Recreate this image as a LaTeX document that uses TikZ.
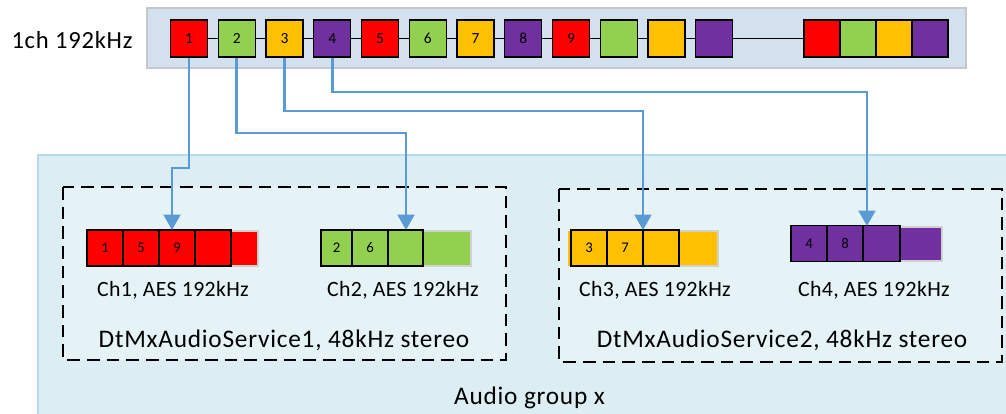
\documentclass[tikz,border=0pt]{standalone}
\usepackage{fontspec}
\setmainfont{Carlito}
\newfontfamily\widefont[LetterSpace=3]{Carlito}
\newfontfamily\labelfont[LetterSpace=1.5]{Carlito}
\usetikzlibrary{arrows.meta}
\definecolor{chred}{HTML}{FF0000}
\definecolor{chgreen}{HTML}{92D050}
\definecolor{chyellow}{HTML}{FFC000}
\definecolor{chpurple}{HTML}{7030A0}
\definecolor{barblue}{HTML}{D3E1EF}
\definecolor{barline}{HTML}{C4C8CC}
\definecolor{groupbg}{HTML}{DCEEF4}
\definecolor{groupline}{HTML}{B3DCE8}
\definecolor{svcbg}{HTML}{E5F3F7}
\definecolor{flowblue}{HTML}{5B9BD5}

\begin{document}
\begin{tikzpicture}[x=0.025cm, y=-0.025cm,
  slot/.style={draw=black, line width=1pt, minimum width=0.925cm, minimum height=0.925cm, inner sep=0pt, font=\fontsize{11}{13}\selectfont},
  cell/.style={draw=black, line width=1pt, minimum height=0.9cm, inner sep=0pt, font=\fontsize{10.5}{12}\selectfont},
  tail/.style={draw=black!18, line width=1pt},
  flow/.style={flowblue, line width=1.8pt, -{Triangle[length=11pt,width=12pt]}},
  svc/.style={draw=black, dash pattern=on 9pt off 5pt, line width=1pt, fill=svcbg},
  txt/.style={font=\labelfont\fontsize{15.5}{18}\selectfont},
  bigtxt/.style={font=\widefont\fontsize{18}{21}\selectfont}]
\useasboundingbox (0,0) rectangle (1006,414);

% backgrounds
\fill[groupbg] (38,155) rectangle (1006,414);
\draw[groupline, line width=1pt] (38,414) -- (38,155) -- (1006,155);
\draw[fill=barblue, draw=barline, line width=1.2pt] (147,8) rectangle (966,68);
\draw[svc] (63,187) rectangle (506,360);
\draw[svc] (559,189) rectangle (1002,362);

\node[bigtxt, font=\widefont\fontsize{17.5}{21}\selectfont] (rate) at (72,40) {1ch 192kHz};

% 192kHz sample stream
\node[slot, fill=chred] (s1) at (189,38.5) {1};
\node[slot, fill=chgreen] (s2) at (236.75,38.5) {2};
\node[slot, fill=chyellow] (s3) at (284.5,38.5) {3};
\node[slot, fill=chpurple] (s4) at (332.25,38.5) {4};
\node[slot, fill=chred] (s5) at (380,38.5) {5};
\node[slot, fill=chgreen] (s6) at (427.75,38.5) {6};
\node[slot, fill=chyellow] (s7) at (475.5,38.5) {7};
\node[slot, fill=chpurple] (s8) at (523.25,38.5) {8};
\node[slot, fill=chred] (s9) at (571,38.5) {9};
\node[slot, fill=chgreen] (s10) at (618.75,38.5) {};
\node[slot, fill=chyellow] (s11) at (666.5,38.5) {};
\node[slot, fill=chpurple] (s12) at (714.25,38.5) {};
\node[slot, fill=chred, minimum width=0.9cm] (t1) at (822,38.5) {};
\node[slot, fill=chgreen, minimum width=0.9cm] (t2) at (858,38.5) {};
\node[slot, fill=chyellow, minimum width=0.9cm] (t3) at (894,38.5) {};
\node[slot, fill=chpurple, minimum width=0.9cm] (t4) at (930,38.5) {};

\draw[line width=1pt] (s1) -- (s2) -- (s3) -- (s4) -- (s5) -- (s6) -- (s7) -- (s8) -- (s9) -- (s10) -- (s11) -- (s12) -- (t1);

% Ch1
\fill[chred] (231,231) rectangle (258,266);
\draw[tail] (231,231) -- (258,231) -- (258,266) -- (231,266);
\node[cell, fill=chred, minimum width=0.9cm] (r1) at (105,248) {1};
\node[cell, fill=chred, minimum width=0.9cm] (r2) at (141,248) {5};
\node[cell, fill=chred, minimum width=0.9cm] (r3) at (177,248) {9};
\node[cell, fill=chred, minimum width=0.9cm] (r4) at (213,248) {};
\node[txt] (ch1) at (173,290) {Ch1, AES 192kHz};

% Ch2
\fill[chgreen] (423,231) rectangle (471,266);
\draw[tail] (423,231) -- (471,231) -- (471,266) -- (423,266);
\node[cell, fill=chgreen, minimum width=0.775cm] (g1) at (336.5,248) {2};
\node[cell, fill=chgreen, minimum width=0.9cm] (g2) at (370,248) {6};
\node[cell, fill=chgreen, minimum width=0.875cm] (g3) at (405.5,248) {};
\node[txt] (ch2) at (403,290) {Ch2, AES 192kHz};

% Ch3
\fill[chyellow] (568,231) rectangle (718,266);
\draw[tail] (679,231) -- (718,231) -- (718,266) -- (679,266);
\node[cell, fill=chyellow, minimum width=0.9cm] (y1) at (589,248) {3};
\node[cell, fill=chyellow, minimum width=0.9cm] (y2) at (625,248) {7};
\node[cell, fill=chyellow, minimum width=0.9cm] (y3) at (661,248) {};
\node[txt] (ch3) at (655,290) {Ch3, AES 192kHz};

% Ch4
\fill[chpurple] (900,227) rectangle (942,261);
\draw[tail] (900,227) -- (942,227) -- (942,261) -- (900,261);
\node[cell, fill=chpurple, minimum width=0.9cm] (p1) at (809,243.5) {4};
\node[cell, fill=chpurple, minimum width=0.9cm] (p2) at (845,243.5) {8};
\node[cell, fill=chpurple, minimum width=0.925cm] (p3) at (881.5,243.5) {};
\node[txt] (ch4) at (874,290) {Ch4, AES 192kHz};

\node[bigtxt] (svc1) at (284,340) {DtMxAudioService1, 48kHz stereo};
\node[bigtxt] (svc2) at (782,340) {DtMxAudioService2, 48kHz stereo};
\node[bigtxt] (grp) at (529.5,398) {Audio group x};

% demux arrows
\coordinate (k1) at (172,168);
\coordinate (a1) at (172,230);
\coordinate (k2) at (406,133);
\coordinate (a2) at (406,230);
\coordinate (k3) at (643,111);
\coordinate (a3) at (643,230);
\coordinate (k4) at (867,92);
\coordinate (a4) at (867,226);
\draw[flow] (s1.south) |- (k1) -- (a1);
\draw[flow] (s2.south) |- (k2) -- (a2);
\draw[flow] (s3.south) |- (k3) -- (a3);
\draw[flow] (s4.south) |- (k4) -- (a4);
\end{tikzpicture}
\end{document}
